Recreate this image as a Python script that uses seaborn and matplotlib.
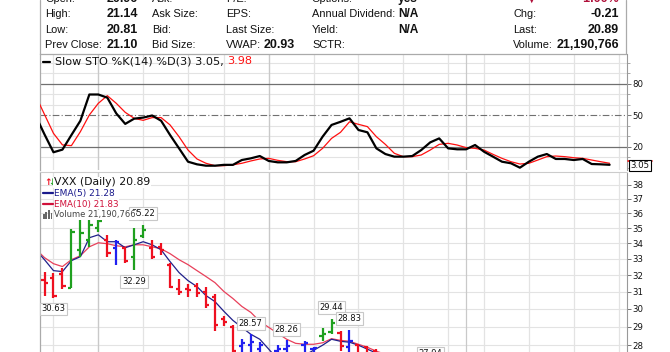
import matplotlib
matplotlib.use("Agg")
import matplotlib.pyplot as plt
import matplotlib.ticker as mticker
from matplotlib.lines import Line2D
from matplotlib.patches import Rectangle
import numpy as np
import pandas as pd
import seaborn as sns

# ------------------------------------------------------------------ data
sto_idx = list(range(-1, 64))
sto_k = [50, 32, 15, 17.5, 31.4, 45, 70, 70, 67, 52, 42, 47, 48, 50, 45, 31.4, 18.7, 6, 3.5,
         2.2, 2.2, 3, 3, 7.6, 9.2, 11.4, 6.7, 5.4, 5.4, 6.7, 12.4, 16.5, 29.8, 41, 44, 47.3,
         36.2, 34, 18.7, 13.3, 10.8, 10.8, 11.4, 17.1, 24.4, 28.2, 18.7, 17.8, 17.8, 21.9,
         15.5, 10.8, 6, 4.5, 0.3, 6, 10.8, 13.3, 8.6, 8.6, 7.6, 8.6, 3.8, 3.5, 3.05]
sto_d = [69, 51, 33, 22, 21.3, 34.6, 50.5, 61.6, 68.9, 61.6, 53, 47.3, 45.4, 48, 48, 41, 29.8,
         17.1, 8.6, 4.5, 2.2, 2.2, 3, 4.5, 6.7, 8.6, 9.2, 7.3, 6, 6, 8.6, 11.7, 18.7, 28.2,
         34, 44, 41.6, 39.4, 29.8, 22.5, 14, 10.8, 10.8, 12.4, 17.1, 22.5, 23.5, 21.9, 19.4,
         18.7, 17.1, 13, 9.2, 6, 3.8, 4.5, 7.6, 10.8, 11.4, 10.8, 9.8, 9.2, 7.6, 6, 4.5]

bar_idx = list(range(0, 38))
bar_open = [31.72, 31.84, 32.09, 31.19, 33.58, 34.23, 35.02, 34.23, 33.71, 33.71, 33.14, 34.49,
            33.71, 33.77, 32.64, 31.13, 31.13, 31.36, 31.01, 30.66, 29.40, 28.96, 27.93, 27.99,
            27.78, 27.20, 27.67, 27.78, 27.30, 27.99, 27.78, 28.47, 28.69, 28.67, 27.90, 28.00,
            27.90, 27.70]
bar_high = [32.21, 32.15, 32.46, 34.95, 35.55, 35.55, 35.55, 34.55, 34.23, 33.77, 35.02, 35.22,
            34.23, 34.03, 32.76, 31.78, 31.48, 31.54, 31.25, 30.89, 29.57, 29.07, 28.31, 28.57,
            28.17, 27.56, 27.99, 28.26, 27.56, 28.20, 27.90, 28.91, 29.44, 28.76, 28.83, 28.04,
            27.95, 27.78]
bar_low = [30.77, 30.63, 31.13, 31.19, 33.14, 33.77, 34.75, 33.14, 32.64, 32.76, 32.29, 34.36,
           33.01, 33.27, 31.19, 30.83, 30.71, 30.71, 30.03, 28.74, 29.02, 27.46, 27.35, 27.46,
           27.20, 26.90, 27.00, 27.10, 26.95, 27.30, 27.20, 28.22, 28.58, 27.70, 27.60, 27.30,
           27.20, 27.00]
bar_close = [31.54, 30.77, 31.36, 34.75, 34.68, 35.22, 35.48, 33.39, 34.10, 32.89, 34.23, 34.88,
             33.14, 33.58, 31.25, 31.01, 31.07, 30.95, 30.20, 29.07, 29.24, 27.67, 28.09, 28.15,
             27.99, 27.40, 27.78, 27.93, 27.45, 28.09, 27.85, 28.58, 29.18, 27.95, 28.20, 27.50,
             27.40, 27.20]
bar_color = ["r", "r", "r", "g", "g", "g", "g", "r", "b", "r", "g", "g", "r", "r", "r", "r", "r",
             "r", "r", "r", "r", "r", "b", "b", "b", "b", "b", "b", "b", "b", "b", "g", "g", "r",
             "b", "r", "r", "r"]

ema_idx = list(range(-1, 39))
ema5 = [33.58, 32.95, 32.27, 32.21, 32.89, 33.14, 34.36, 34.55, 34.10, 34.10, 33.71, 33.90, 34.10,
        33.90, 33.58, 32.83, 32.15, 31.66, 31.30, 30.77, 30.42, 29.86, 29.35, 28.96, 28.58, 28.31,
        27.78, 27.25, 27.35, 27.35, 27.46, 27.72, 27.99, 28.31, 28.20, 28.15, 27.99, 27.78, 27.57,
        27.35]
ema10 = [33.64, 33.08, 32.70, 32.52, 32.95, 33.20, 33.77, 34.03, 33.97, 33.84, 33.77, 33.90, 33.90,
         33.77, 33.64, 33.33, 32.95, 32.64, 32.27, 31.91, 31.54, 31.01, 30.60, 30.14, 29.80, 29.29,
         28.96, 28.63, 28.31, 28.09, 28.04, 28.04, 28.12, 28.34, 28.25, 28.20, 28.04, 27.88, 27.67,
         27.51]

price_ticks = [28, 29, 30, 31, 32, 33, 34, 35, 36, 37, 38]
sto_ticks = [20, 50, 80]
sto_minor_grid = [10, 30, 40, 60, 70, 90, 100]
week_lines = [1, 6, 11, 16, 20, 25, 30, 35, 40, 45, 49, 54, 59, 64]
month_lines = [6, 25, 47]

swing_idx = [1, 10, 11, 23, 27, 32, 34, 43]
swing_val = [30.63, 32.29, 35.22, 28.57, 28.26, 29.44, 28.83, 27.94]
swing_side = ["low", "low", "high", "high", "high", "high", "high", "low"]

hdr_row_y = [-1.5, 14, 30, 45.5]
col1_labels = ["Open:", "High:", "Low:", "Prev Close:"]
col1_values = ["20.96", "21.14", "20.81", "21.10"]
col2_labels = ["Ask:", "Ask Size:", "Bid:", "Bid Size:"]
col3_labels = ["P/E:", "EPS:", "Last Size:", "VWAP:"]
col3_values = ["", "", "", "20.93"]
col4_labels = ["Options:", "Annual Dividend:", "Yield:", "SCTR:"]
col4_values = ["yes", "N/A", "N/A", ""]
col5_labels = ["", "Chg:", "Last:", "Volume:"]
col5_values = ["-1.00%", "-0.21", "20.89", "21,190,766"]

sto_legend = "Slow STO %K(14) %D(3) 3.05, "
sto_legend_d = "3.98"
price_legend = ["VXX (Daily) 20.89", "EMA(5) 21.28", "EMA(10) 21.83", "Volume 21,190,766"]
last_k_label = "3.05"

# ------------------------------------------------------------------ style
sns.set_theme(style="white")
plt.rcParams["font.family"] = ["DejaVu Sans"]

W, H, DPI = 670, 352, 100
fig = plt.figure(figsize=(W / DPI, H / DPI), dpi=DPI)
fig.patch.set_facecolor("white")

def fx(x):
    return x / W

def fy(y):
    return 1 - y / H

RED = "#EE1020"
GREEN = "#1FA01F"
BLUE = "#2020F0"
CMAP = {"r": RED, "g": GREEN, "b": BLUE}
GRID = "#E3E3E3"
GRID_DARK = "#C9C9C9"

X0, X1 = 40, 627
STEP, XBASE = 8.97, 44.5
xlim = ((X0 - XBASE) / STEP, (X1 - XBASE) / STEP)

# ------------------------------------------------------------------ header
hfont = ["Liberation Sans", "DejaVu Sans"]
for r, y in enumerate(hdr_row_y):
    fig.text(fx(45), fy(y), col1_labels[r], family=hfont, fontsize=7.9, color="#111", va="center")
    fig.text(fx(107), fy(y), col1_values[r], family=hfont, fontsize=9.0, weight="bold", color="#111", va="center")
    fig.text(fx(152), fy(y), col2_labels[r], family=hfont, fontsize=7.9, color="#111", va="center")
    fig.text(fx(226), fy(y), col3_labels[r], family=hfont, fontsize=7.9, color="#111", va="center")
    if col3_values[r]:
        fig.text(fx(264), fy(y), col3_values[r], family=hfont, fontsize=9.0, weight="bold", color="#111", va="center")
    fig.text(fx(312), fy(y), col4_labels[r], family=hfont, fontsize=7.9, color="#111", va="center")
    if col4_values[r]:
        fig.text(fx(398), fy(y), col4_values[r], family=hfont, fontsize=8.6, weight="bold", color="#111", va="center")
    if col5_labels[r]:
        fig.text(fx(513), fy(y), col5_labels[r], family=hfont, fontsize=7.9, color="#111", va="center")
    vcol = "#B0103A" if r == 0 else "#111"
    fig.text(fx(619), fy(y), col5_values[r], family=hfont, fontsize=9.0, weight="bold", color=vcol,
             va="center", ha="right")
fig.text(fx(532), fy(-1.5), "\u25bc", fontsize=7, color="#B0103A", ha="center", va="center")

for (xa, ya, xb, yb) in [(40, 0, 40, 54), (625.5, 0, 625.5, 54), (40, 53.5, 625.5, 53.5)]:
    fig.add_artist(Line2D([fx(xa), fx(xb)], [fy(ya), fy(yb)], color="#AAAAAA", lw=0.9))

# ------------------------------------------------------------------ STO panel
ax_s = fig.add_axes([fx(X0), fy(170), (X1 - X0) / W, 116 / H])
ax_s.set_xlim(*xlim)
ax_s.set_ylim(-1.905, 108.57)
for v in sto_minor_grid:
    ax_s.axhline(v, color=GRID, lw=0.8, zorder=0)
for i in week_lines:
    ax_s.axvline(i, color=GRID, lw=0.9, zorder=0)
for i in month_lines:
    ax_s.axvline(i, color=GRID_DARK, lw=0.9, zorder=0)
ax_s.axhline(80, color="#707070", lw=0.9, zorder=1)
ax_s.axhline(20, color="#707070", lw=0.9, zorder=1)
ax_s.axhline(50, color="#707070", lw=0.8, ls=(0, (6, 2, 1, 2)), zorder=1)

sto_df = pd.DataFrame({"i": sto_idx, "k": sto_k, "d": sto_d})
sns.lineplot(data=sto_df, x="i", y="d", ax=ax_s, color="#FF1010", lw=0.9, zorder=3)
sns.lineplot(data=sto_df, x="i", y="k", ax=ax_s, color="black", lw=1.6, zorder=4)

ax_s.set_xlabel("")
ax_s.set_ylabel("")
ax_s.set_xticks([])
ax_s.yaxis.tick_right()
ax_s.set_yticks(sto_ticks)
ax_s.set_yticklabels([str(t) for t in sto_ticks])
ax_s.yaxis.set_minor_locator(mticker.MultipleLocator(10))
ax_s.tick_params(axis="y", which="major", right=True, length=3, width=0.7, color="#777",
                 pad=1, labelsize=6.2, labelcolor="#111")
ax_s.tick_params(axis="y", which="minor", right=True, length=2, width=0.6, color="#999")
for sp in ["top", "bottom"]:
    ax_s.spines[sp].set_visible(False)
ax_s.spines["left"].set_color("#AAAAAA")
ax_s.spines["left"].set_linewidth(0.9)
ax_s.spines["right"].set_color("#999999")
ax_s.spines["right"].set_linewidth(0.8)
ax_s.spines["right"].set_linestyle((0, (1, 1)))

# legend of STO
fig.add_artist(Line2D([fx(43), fx(50)], [fy(61.5), fy(61.5)], color="black", lw=1.6))
t = fig.text(fx(55), fy(61.5), sto_legend, fontsize=8.1, color="#111", va="center")
fig.canvas.draw()
bb = t.get_window_extent()
fig.text(bb.x1 / W, fy(61.5), sto_legend_d, fontsize=8.1, color="#FF1010", va="center")

# last value marker
fig.add_artist(Line2D([fx(628), fx(652)], [fy(160.5), fy(160.5)], color="#FF1010", lw=1.2))
fig.text(fx(640), fy(165.3), last_k_label, fontsize=6.2, color="#111", ha="center", va="center",
         bbox=dict(boxstyle="square,pad=0.15", fc="white", ec="black", lw=0.8))

# ------------------------------------------------------------------ price panel
ax_p = fig.add_axes([fx(X0), 0, (X1 - X0) / W, (352 - 172) / H])
ax_p.set_yscale("log")
ax_p.set_xlim(*xlim)
ax_p.set_ylim(27.63, 38.95)
for v in price_ticks:
    ax_p.axhline(v, color=GRID, lw=0.8, zorder=0)
for i in week_lines:
    ax_p.axvline(i, color=GRID, lw=0.9, zorder=0)
for i in month_lines:
    ax_p.axvline(i, color=GRID_DARK, lw=0.9, zorder=0)

ema_df = pd.DataFrame({"i": ema_idx, "ema5": ema5, "ema10": ema10})
sns.lineplot(data=ema_df, x="i", y="ema10", ax=ax_p, color="#E8405A", lw=0.9, zorder=2)
sns.lineplot(data=ema_df, x="i", y="ema5", ax=ax_p, color="#20208A", lw=0.9, zorder=2)

bars = pd.DataFrame({"i": bar_idx, "o": bar_open, "h": bar_high, "l": bar_low,
                     "c": bar_close, "col": bar_color})
cols = [CMAP[c] for c in bars["col"]]
tick = 0.36
ax_p.vlines(bars["i"], bars["l"], bars["h"], colors=cols, lw=1.6, zorder=3)
ax_p.hlines(bars["o"], bars["i"] - tick, bars["i"], colors=cols, lw=1.6, zorder=3)
ax_p.hlines(bars["c"], bars["i"], bars["i"] + tick, colors=cols, lw=1.6, zorder=3)

for i, v, side in zip(swing_idx, swing_val, swing_side):
    off = 11 if side == "low" else -11
    if i == 43:
        off = 7
    ax_p.annotate(f"{v:.2f}", xy=(i, v), xytext=(0, -off * 0.72), textcoords="offset points",
                  ha="center", va="center", fontsize=6.0, color="#111", zorder=5,
                  bbox=dict(boxstyle="square,pad=0.22", fc="white", ec="#C8C8C8", lw=0.8),
                  annotation_clip=False)

ax_p.set_xlabel("")
ax_p.set_ylabel("")
ax_p.set_xticks([])
ax_p.yaxis.tick_right()
ax_p.yaxis.set_major_locator(mticker.FixedLocator(price_ticks))
ax_p.yaxis.set_major_formatter(mticker.FixedFormatter([str(t) for t in price_ticks]))
ax_p.yaxis.set_minor_locator(mticker.NullLocator())
ax_p.tick_params(axis="y", which="major", right=True, length=3, width=0.7, color="#777",
                 pad=1, labelsize=6.2, labelcolor="#111")
for sp in ["top", "bottom"]:
    ax_p.spines[sp].set_visible(False)
ax_p.spines["left"].set_color("#AAAAAA")
ax_p.spines["left"].set_linewidth(0.9)
ax_p.spines["right"].set_color("#999999")
ax_p.spines["right"].set_linewidth(0.8)
ax_p.spines["right"].set_linestyle((0, (1, 1)))
fig.add_artist(Line2D([fx(40), fx(627)], [fy(171.5), fy(171.5)], color="#CCCCCC", lw=0.8))

# price legend
leg_y = [182.3, 193.3, 204.3, 214.8]
leg_size = [7.8, 6.5, 6.3, 6.0]
leg_col = ["#111111", "#1A1A8C", "#D0103A", "#444444"]
for y, txt, c, s in zip(leg_y, price_legend, leg_col, leg_size):
    fig.text(fx(54), fy(y), txt, fontsize=s, color=c, va="center", zorder=10,
             bbox=dict(boxstyle="square,pad=0.05", fc="white", ec="none"))
fig.text(fx(44), fy(182.3), "\u2191", fontsize=6.5, color=RED, va="center", ha="left", weight="bold")
fig.text(fx(48), fy(182.3), "\u2193", fontsize=6.5, color=GREEN, va="center", ha="left", weight="bold")
fig.add_artist(Line2D([fx(43), fx(53)], [fy(193.3), fy(193.3)], color="#1A1A8C", lw=1.6))
fig.add_artist(Line2D([fx(43), fx(53)], [fy(204.3), fy(204.3)], color="#D0103A", lw=1.6))
for k, (bx, bh) in enumerate([(43, 5), (45.5, 7), (48, 9), (50.5, 6)]):
    fig.add_artist(Rectangle((fx(bx), fy(218.5)), 1.8 / W, bh / H, transform=fig.transFigure,
                             color="#666666", lw=0))

fig.savefig("out.png", dpi=DPI)
